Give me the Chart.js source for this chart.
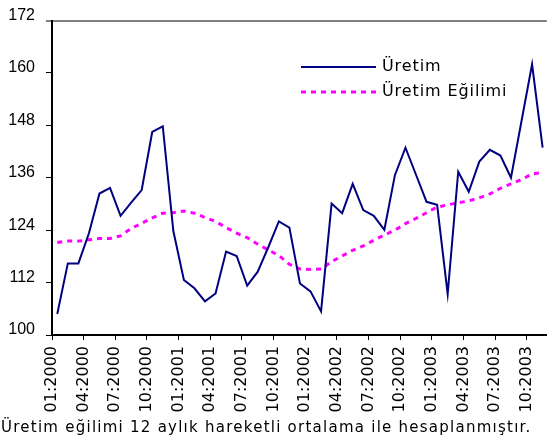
<!DOCTYPE html>
<html><head><meta charset="utf-8">
<script src="https://cdn.jsdelivr.net/npm/chart.js@4"></script>
<style>html,body{margin:0;padding:0;background:#fff;overflow:hidden}#wrap{width:552px;height:445px}</style>
</head><body><div id="wrap"><canvas id="c" width="552" height="445"></canvas></div>
<script>
const months = [
 '01:2000','02:2000','03:2000','04:2000','05:2000','06:2000','07:2000','08:2000','09:2000','10:2000','11:2000','12:2000',
 '01:2001','02:2001','03:2001','04:2001','05:2001','06:2001','07:2001','08:2001','09:2001','10:2001','11:2001','12:2001',
 '01:2002','02:2002','03:2002','04:2002','05:2002','06:2002','07:2002','08:2002','09:2002','10:2002','11:2002','12:2002',
 '01:2003','02:2003','03:2003','04:2003','05:2003','06:2003','07:2003','08:2003','09:2003','10:2003','11:2003'];
const tickLabels = ['01:2000','04:2000','07:2000','10:2000','01:2001','04:2001','07:2001','10:2001',
 '01:2002','04:2002','07:2002','10:2002','01:2003','04:2003','07:2003','10:2003'];
const uretim = [104.8,116.4,116.4,123.3,132.4,133.7,127.3,130.3,133.2,146.5,147.8,123.8,
 112.6,110.7,107.7,109.5,119.1,118.1,111.3,114.5,120.1,126.0,124.6,111.8,
 110.0,105.4,130.1,127.9,134.6,128.6,127.3,124.1,136.6,142.9,136.7,130.5,
 129.8,109.4,137.4,132.8,139.7,142.4,141.1,136.0,149.0,162.0,142.9];
const egilim = [121.2,121.5,121.5,121.8,122.1,122.1,122.7,124.4,125.6,126.8,127.9,128.0,
 128.4,127.9,126.9,126.0,124.6,123.3,122.3,120.8,119.5,118.2,116.2,115.1,
 115.0,115.1,116.8,118.1,119.4,120.4,121.7,122.9,124.0,125.5,126.7,128.0,
 129.3,129.8,130.3,130.7,131.4,132.3,133.6,134.6,135.6,136.9,137.2];
const seriesNames = ['Üretim','Üretim Eğilimi'];
const footnote = 'Üretim eğilimi 12 aylık hareketli ortalama ile hesaplanmıştır.';

const toPts = arr => arr.map((v,i)=>({x:i+0.5,y:v,m:months[i]}));

const lineLegend = {
  id:'lineLegend',
  afterDatasetsDraw(chart){
    const ctx = chart.ctx;
    const rows = [67,92];
    chart.data.datasets.forEach((ds,i)=>{
      ctx.save();
      ctx.strokeStyle = ds.borderColor;
      ctx.lineWidth = ds.borderWidth;
      ctx.setLineDash(ds.borderDash || []);
      ctx.beginPath();
      ctx.moveTo(301,rows[i]); ctx.lineTo(376,rows[i]);
      ctx.stroke();
      ctx.setLineDash([]);
      ctx.fillStyle = '#000';
      ctx.font = '16px "DejaVu Sans"';
      if ('letterSpacing' in ctx) ctx.letterSpacing = '0.9px';
      ctx.textBaseline = 'middle';
      ctx.textAlign = 'left';
      ctx.fillText(ds.label,382,rows[i]);
      ctx.restore();
    });
  }
};

const footnotePlugin = {
  id:'footnote',
  afterDraw(chart){
    const ctx = chart.ctx;
    ctx.save();
    ctx.fillStyle = '#000';
    ctx.font = '15px "DejaVu Sans"';
    if ('letterSpacing' in ctx) ctx.letterSpacing = '1.25px';
    ctx.textBaseline = 'alphabetic';
    ctx.textAlign = 'left';
    ctx.fillText(footnote,1,432);
    ctx.restore();
  }
};

new Chart(document.getElementById('c'),{
  type:'line',
  data:{datasets:[
    {label:seriesNames[0],data:toPts(uretim),borderColor:'#000080',borderWidth:2,pointRadius:0,tension:0,fill:false},
    {label:seriesNames[1],data:toPts(egilim),borderColor:'#FF00FF',borderWidth:3,borderDash:[5,5],pointRadius:0,tension:0,fill:false}
  ]},
  options:{
    responsive:false,animation:false,devicePixelRatio:1,
    layout:{padding:{left:0,right:0,top:19,bottom:0}},
    plugins:{legend:{display:false},tooltip:{enabled:false},title:{display:false}},
    scales:{
      x:{type:'linear',position:'bottom',min:0,max:46.9,
        afterBuildTicks(s){ s.ticks = tickLabels.map((_,k)=>({value:k*3})); },
        afterFit(s){ s.height = 110; },
        ticks:{autoSkip:false,minRotation:90,maxRotation:90,padding:6,color:'#000',
          font:{family:'"DejaVu Sans"',size:16},
          callback:(v)=>tickLabels[Math.round(v/3)]},
        grid:{drawOnChartArea:false,drawTicks:true,tickLength:5,color:'#000',lineWidth:1},
        border:{display:true,color:'#000',width:2}
      },
      y:{min:100,max:172,
        afterFit(s){ s.width = 52; },
        ticks:{stepSize:12,padding:11,labelOffset:-5,color:'#000',font:{family:'"Liberation Sans"',size:16}},
        grid:{drawOnChartArea:true,tickLength:6,
          color:c=>c.tick && c.tick.value===172?'#808080':'rgba(0,0,0,0)',
          lineWidth:c=>c.tick && c.tick.value===172?2:1,
          tickColor:c=>c.tick && c.tick.value===172?'#808080':'#000'},
        border:{display:true,color:'#000',width:2}
      }
    }
  },
  plugins:[lineLegend,footnotePlugin]
});
</script></body></html>
